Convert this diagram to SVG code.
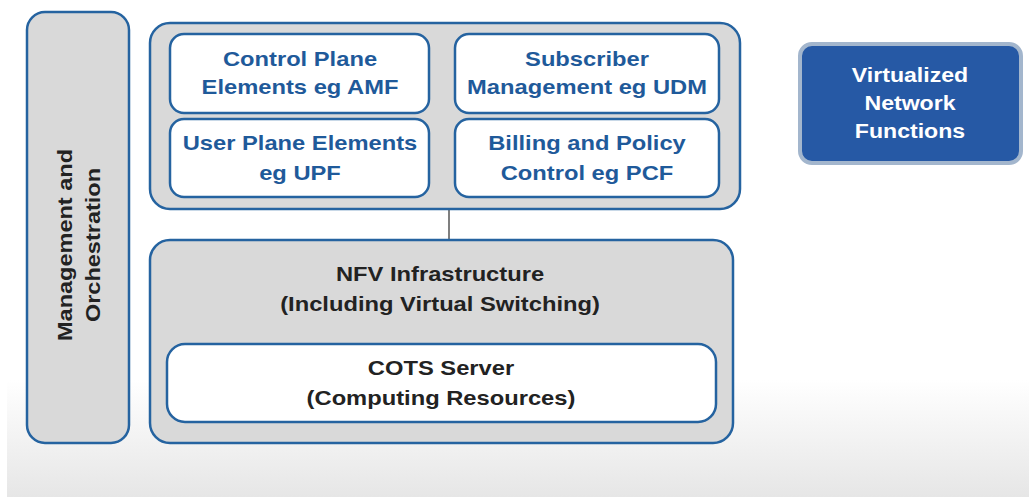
<svg xmlns="http://www.w3.org/2000/svg" width="1029" height="497" viewBox="0 0 1029 497">
<defs>
<linearGradient id="bg" x1="0" y1="0" x2="0" y2="1">
<stop offset="0" stop-color="#ffffff"/>
<stop offset="1" stop-color="#e6e6e6"/>
</linearGradient>
<style>
.outer{fill:#d9d9d9;stroke:#2563a0;stroke-width:2.5}
.inner{fill:#ffffff;stroke:#2563a0;stroke-width:2.5}
.bt{font-family:"Liberation Sans",Arial,sans-serif;font-weight:bold;font-size:21px;fill:#1f5a9a;text-anchor:middle}
.kt{font-family:"Liberation Sans",Arial,sans-serif;font-weight:bold;font-size:21px;fill:#222222;text-anchor:middle}
.wt{font-family:"Liberation Sans",Arial,sans-serif;font-weight:bold;font-size:21px;fill:#ffffff;text-anchor:middle}
.conn{stroke:#7f7f7f;stroke-width:2;fill:none}
</style>
</defs>
<rect x="0" y="0" width="1029" height="497" fill="#ffffff"/>
<rect x="7" y="380" width="1022" height="117" fill="url(#bg)"/>

<g id="connectors">
<line class="conn" x1="449" y1="209" x2="449" y2="240"/>
</g>

<g id="mgmt">
<rect class="outer" x="27" y="12" width="102" height="431" rx="18"/>
<g transform="translate(78,245) rotate(-90) scale(1.12,1)">
<text class="kt" x="0" y="-6">Management and</text>
<text class="kt" x="0" y="22">Orchestration</text>
</g>
</g>

<g id="vnf-container">
<rect class="outer" x="150" y="23" width="590" height="186" rx="20"/>
</g>

<g id="control-plane">
<rect class="inner" x="170" y="34" width="259" height="79" rx="14"/>
<g transform="translate(300,0) scale(1.13,1)">
<text class="bt" x="0" y="66">Control Plane</text>
<text class="bt" x="0" y="94">Elements eg AMF</text>
</g>
</g>

<g id="subscriber">
<rect class="inner" x="455" y="34" width="264" height="79" rx="14"/>
<g transform="translate(587,0) scale(1.13,1)">
<text class="bt" x="0" y="66">Subscriber</text>
<text class="bt" x="0" y="94">Management eg UDM</text>
</g>
</g>

<g id="user-plane">
<rect class="inner" x="170" y="119" width="259" height="78" rx="14"/>
<g transform="translate(300,0) scale(1.13,1)">
<text class="bt" x="0" y="150">User Plane Elements</text>
<text class="bt" x="0" y="180">eg UPF</text>
</g>
</g>

<g id="billing">
<rect class="inner" x="455" y="119" width="264" height="78" rx="14"/>
<g transform="translate(587,0) scale(1.13,1)">
<text class="bt" x="0" y="150">Billing and Policy</text>
<text class="bt" x="0" y="180">Control eg PCF</text>
</g>
</g>

<g id="nfvi">
<rect class="outer" x="150" y="240" width="583" height="203" rx="20"/>
<g transform="translate(440,0) scale(1.13,1)">
<text class="kt" x="0" y="281">NFV Infrastructure</text>
<text class="kt" x="0" y="311">(Including Virtual Switching)</text>
</g>
</g>

<g id="cots">
<rect class="inner" x="167" y="344" width="549" height="78" rx="18"/>
<g transform="translate(441,0) scale(1.13,1)">
<text class="kt" x="0" y="375">COTS Server</text>
<text class="kt" x="0" y="405">(Computing Resources)</text>
</g>
</g>

<g id="vnf-label">
<rect x="800" y="44" width="221" height="119" rx="12" fill="#2659a5" stroke="#a3b6cd" stroke-width="4"/>
<g transform="translate(910,0) scale(1.1,1)">
<text class="wt" x="0" y="82">Virtualized</text>
<text class="wt" x="0" y="110">Network</text>
<text class="wt" x="0" y="138">Functions</text>
</g>
</g>
</svg>
